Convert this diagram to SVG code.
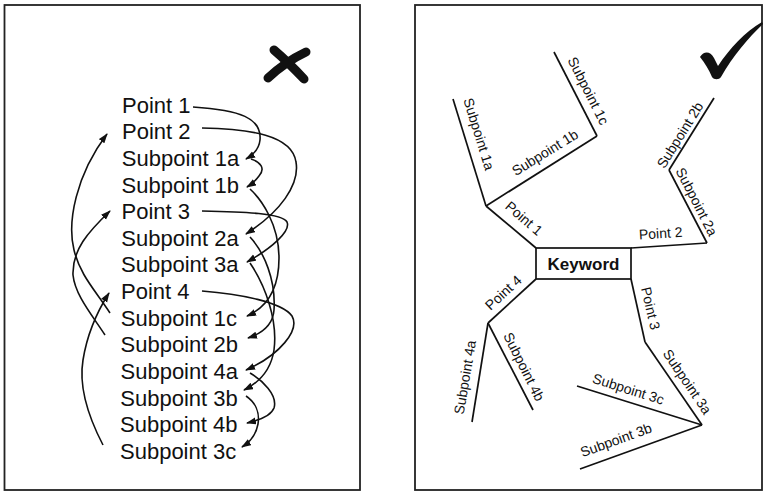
<svg xmlns="http://www.w3.org/2000/svg" width="767" height="493" viewBox="0 0 767 493">
<defs>
<style>
.panel{fill:#fff;stroke:#222;stroke-width:1.8}
.item{font-family:"Liberation Sans",Arial,sans-serif;font-size:22px;fill:#111}
.lbl{font-family:"Liberation Sans",Arial,sans-serif;font-size:14px;fill:#111;text-anchor:middle}
.kw{font-family:"Liberation Sans",Arial,sans-serif;font-size:17px;font-weight:bold;fill:#111;text-anchor:middle}
.arr{fill:none;stroke:#111;stroke-width:1.6;marker-end:url(#ah)}
.br{fill:none;stroke:#111;stroke-width:1.7;stroke-linejoin:miter}
.mark{fill:none;stroke:#111;stroke-width:9;stroke-linecap:round}
</style>
<marker id="ah" markerUnits="userSpaceOnUse" markerWidth="10" markerHeight="8" refX="9" refY="3.5" orient="auto">
<path d="M0,0 L10,3.5 L0,7 Z" fill="#111"/>
</marker>
</defs>
<rect width="767" height="493" fill="#fff"/>
<rect class="panel" x="4.5" y="5" width="355.5" height="485"/>
<rect class="panel" x="415" y="5" width="347" height="485"/>

<g id="cross-mark">
<path class="mark" d="M274,50 Q288,62 304,79"/>
<path class="mark" d="M306,52 Q285,62 268,78"/>
</g>

<g id="list">
<g id="n-point1"><text class="item" x="122" y="112.5">Point 1</text></g>
<g id="n-point2"><text class="item" x="122" y="139.2">Point 2</text></g>
<g id="n-sub1a"><text class="item" x="121.8" y="165.8">Subpoint 1a</text></g>
<g id="n-sub1b"><text class="item" x="121.6" y="192.5">Subpoint 1b</text></g>
<g id="n-point3"><text class="item" x="121.5" y="219.1">Point 3</text></g>
<g id="n-sub2a"><text class="item" x="121.3" y="245.8">Subpoint 2a</text></g>
<g id="n-sub3a"><text class="item" x="121.1" y="272.4">Subpoint 3a</text></g>
<g id="n-point4"><text class="item" x="121" y="299.1">Point 4</text></g>
<g id="n-sub1c"><text class="item" x="120.8" y="325.7">Subpoint 1c</text></g>
<g id="n-sub2b"><text class="item" x="120.6" y="352.4">Subpoint 2b</text></g>
<g id="n-sub4a"><text class="item" x="120.5" y="379">Subpoint 4a</text></g>
<g id="n-sub3b"><text class="item" x="120.3" y="405.7">Subpoint 3b</text></g>
<g id="n-sub4b"><text class="item" x="120.1" y="432.3">Subpoint 4b</text></g>
<g id="n-sub3c"><text class="item" x="120" y="459">Subpoint 3c</text></g>
</g>

<g id="connectors">
<path class="arr" d="M193,107 C240,110 262,118 260,140 C259,150 253,155 246,159"/>
<path class="arr" d="M251,159 C260,162 266,168 259,176 C256,180 252,184 247,187"/>
<path class="arr" d="M250,189 C262,200 279,225 279,258 C279,285 270,306 247,316"/>
<path class="arr" d="M202,128 C250,129 292,135 296,162 C300,185 280,212 246,234"/>
<path class="arr" d="M250,237 C264,252 276,280 274,310 C273,325 263,333 248,338"/>
<path class="arr" d="M202,211 C245,212 282,213 287,222 C291,231 272,248 247,262"/>
<path class="arr" d="M250,263 C265,285 278,320 274,350 C271,370 260,382 244,390"/>
<path class="arr" d="M202,291 C240,294 282,302 292,316 C300,330 280,355 246,370"/>
<path class="arr" d="M250,373 C262,380 278,395 274,408 C271,416 260,420 247,423"/>
<path class="arr" d="M246,396 C255,402 260,412 258,424 C256,435 250,442 242,447"/>
<path class="arr" d="M110,313 C95,290 80,275 74,250 C67,222 76,175 107,134"/>
<path class="arr" d="M105,335 C92,315 75,295 73,275 C72,250 88,232 110,211"/>
<path class="arr" d="M103,445 C90,420 78,390 83,360 C87,335 95,315 109,293"/>
</g>

<g id="check-mark">
<path d="M700,57 C704,51 710,51 714,58 L718,66 C730,48 745,32 762,22 L763,24 C748,38 733,56 721,77 C719,80 714,80 712,77 C709,70 705,63 700,57 Z" fill="#111"/>
</g>

<g id="keyword">
<rect x="536" y="248" width="95" height="31" fill="#fff" stroke="#111" stroke-width="1.7"/>
<text class="kw" x="583.5" y="270">Keyword</text>
</g>

<g id="b-point1">
<path class="br" d="M536,248 L486,206"/>
<text class="lbl" transform="translate(524,218.3) rotate(40.8)" dy="0.35em">Point 1</text>
</g>
<g id="b-sub1a">
<path class="br" d="M486,206 L453,99"/>
<text class="lbl" transform="translate(479,134) rotate(72.7)" dy="0.35em">Subpoint 1a</text>
</g>
<g id="b-sub1b">
<path class="br" d="M486,206 L597,136"/>
<text class="lbl" transform="translate(545,152.5) rotate(-31.7)" dy="0.35em">Subpoint 1b</text>
</g>
<g id="b-sub1c">
<path class="br" d="M597,136 L554,52"/>
<text class="lbl" transform="translate(588.3,90.7) rotate(63.3)" dy="0.35em">Subpoint 1c</text>
</g>
<g id="b-point2">
<path class="br" d="M631,248 L707,243"/>
<text class="lbl" transform="translate(660.7,233.3) rotate(-3.7)" dy="0.35em">Point 2</text>
</g>
<g id="b-sub2a">
<path class="br" d="M707,243 L669,170"/>
<text class="lbl" transform="translate(696.7,201.7) rotate(63)" dy="0.35em">Subpoint 2a</text>
</g>
<g id="b-sub2b">
<path class="br" d="M669,170 L714,98"/>
<text class="lbl" transform="translate(680,135) rotate(-58.1)" dy="0.35em">Subpoint 2b</text>
</g>
<g id="b-point4">
<path class="br" d="M536,279 L488,323"/>
<text class="lbl" transform="translate(503.3,292.7) rotate(-42.7)" dy="0.35em">Point 4</text>
</g>
<g id="b-sub4a">
<path class="br" d="M488,323 L472,422"/>
<text class="lbl" transform="translate(465,377.3) rotate(-80.4)" dy="0.35em">Subpoint 4a</text>
</g>
<g id="b-sub4b">
<path class="br" d="M488,323 L533,410"/>
<text class="lbl" transform="translate(524,366.7) rotate(63.4)" dy="0.35em">Subpoint 4b</text>
</g>
<g id="b-point3">
<path class="br" d="M631,279 L645,342"/>
<text class="lbl" transform="translate(650.7,308.3) rotate(77)" dy="0.35em">Point 3</text>
</g>
<g id="b-sub3a">
<path class="br" d="M645,342 L702,425"/>
<text class="lbl" transform="translate(687.3,381.7) rotate(55.8)" dy="0.35em">Subpoint 3a</text>
</g>
<g id="b-sub3c">
<path class="br" d="M702,425 L577,386"/>
<text class="lbl" transform="translate(628.3,389) rotate(17.5)" dy="0.35em">Subpoint 3c</text>
</g>
<g id="b-sub3b">
<path class="br" d="M702,425 L580,469"/>
<text class="lbl" transform="translate(616,440) rotate(-19.9)" dy="0.35em">Subpoint 3b</text>
</g>
</svg>
